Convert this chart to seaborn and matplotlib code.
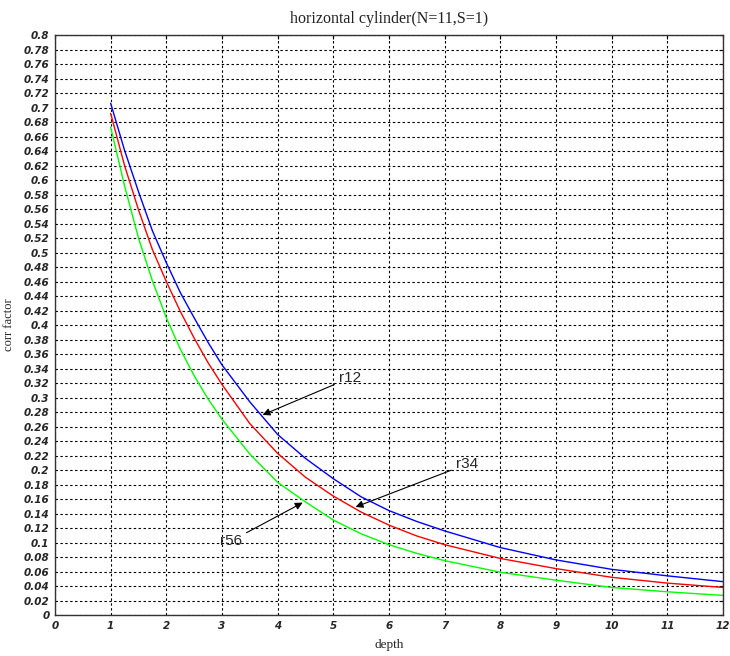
import matplotlib
matplotlib.use("Agg")
import matplotlib.pyplot as plt
import seaborn as sns
import pandas as pd

# depth samples and correction factors for each electrode pair
depth = [1, 1.25, 1.5, 1.75, 2, 2.25, 2.5, 2.75, 3, 3.5, 4, 4.5, 5, 5.5,
         6, 6.5, 7, 8, 9, 10, 11, 12]
r12 = [0.706, 0.641, 0.584, 0.530, 0.486, 0.445, 0.410, 0.376, 0.345, 0.294,
       0.249, 0.216, 0.188, 0.163, 0.144, 0.129, 0.116, 0.093, 0.076, 0.063,
       0.054, 0.046]
r34 = [0.692, 0.620, 0.559, 0.504, 0.460, 0.419, 0.382, 0.348, 0.318, 0.264,
       0.223, 0.190, 0.164, 0.142, 0.124, 0.109, 0.097, 0.078, 0.064, 0.052,
       0.044, 0.038]
r56 = [0.673, 0.592, 0.520, 0.461, 0.410, 0.367, 0.330, 0.298, 0.270, 0.222,
       0.183, 0.156, 0.131, 0.112, 0.097, 0.085, 0.075, 0.059, 0.048, 0.038,
       0.032, 0.027]

series_names = ["r12", "r34", "r56"]
series_colors = ["#0000ff", "#ff0000", "#00ff00"]

x_ticks = list(range(0, 13))
y_ticks = [round(0.02 * i, 2) for i in range(41)]

df = pd.DataFrame({
    "depth": depth * 3,
    "corr factor": r12 + r34 + r56,
    "pair": sum([[n] * len(depth) for n in series_names], []),
})

sns.set_style("white")
fig = plt.figure(figsize=(7.3, 6.56), dpi=100)
ax = fig.add_axes([0.0753, 0.0625, 0.9151, 0.8841])

sns.lineplot(data=df, x="depth", y="corr factor", hue="pair",
             palette=dict(zip(series_names, series_colors)),
             linewidth=1.0, legend=False, ax=ax, sort=True)

ax.set_xlim(0, 12)
ax.set_ylim(0, 0.8)
ax.set_xticks(x_ticks)
ax.set_yticks(y_ticks)
ax.set_xticklabels([str(t) for t in x_ticks])
ax.set_yticklabels([f"{t:g}" for t in y_ticks])
for lab in ax.get_xticklabels() + ax.get_yticklabels():
    lab.set_fontsize(7.5)
    lab.set_fontweight("bold")
    lab.set_fontstyle("italic")
    lab.set_family("DejaVu Sans")

ax.tick_params(axis="both", direction="in", length=3, width=0.8,
               color="black", pad=4, top=True, right=True)
ax.grid(True, color="black", linestyle=(0, (2.2, 2.2)), linewidth=0.8)
for s in ax.spines.values():
    s.set_visible(True)
    s.set_color("#333333")
    s.set_linewidth(1.0)

ax.set_title("horizontal cylinder(N=11,S=1)", family="Liberation Serif",
             fontsize=11.5, color="#222222", pad=9)
ax.set_xlabel("depth", family="Liberation Serif", fontsize=9.5, labelpad=6)
ax.set_ylabel("corr factor", family="Liberation Serif", fontsize=9)
ax.yaxis.set_label_coords(-0.060, 0.5)

arrow_kw = dict(arrowstyle="-|>", color="black", lw=0.8, mutation_scale=11,
                shrinkA=1, shrinkB=0)
ax.annotate("r12", xy=(3.73, 0.276), xytext=(5.10, 0.327),
            ha="left", va="center", fontsize=11, family="Liberation Sans",
            arrowprops=arrow_kw)
ax.annotate("r34", xy=(5.40, 0.149), xytext=(7.20, 0.208),
            ha="left", va="center", fontsize=11, family="Liberation Sans",
            arrowprops=arrow_kw)
ax.annotate("r56", xy=(4.45, 0.155), xytext=(3.36, 0.102),
            ha="right", va="center", fontsize=11, family="Liberation Sans",
            arrowprops=arrow_kw)

fig.savefig("out.png", dpi=100)
